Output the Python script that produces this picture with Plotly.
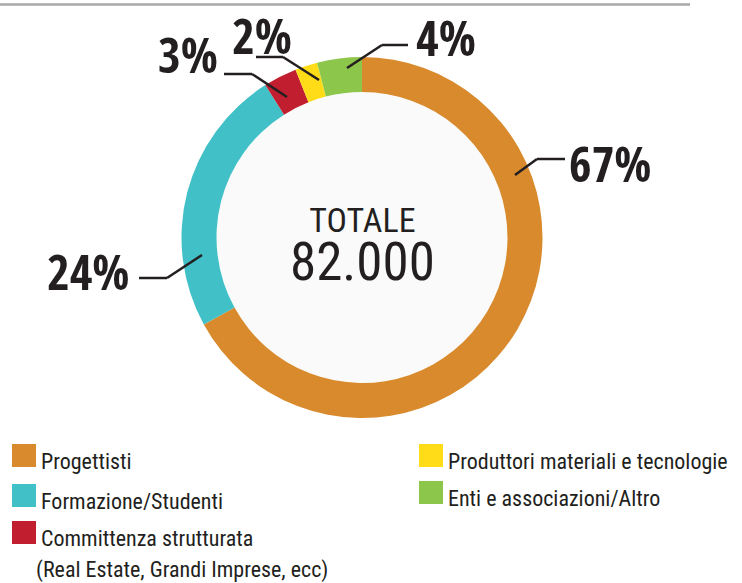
import plotly.graph_objects as go

# ---- data ----
categories = ["Progettisti", "Formazione/Studenti", "Committenza strutturata",
              "Produttori materiali e tecnologie", "Enti e associazioni/Altro"]
values = [67, 24, 3, 2, 4]
pct_labels = ["67%", "24%", "3%", "2%", "4%"]
total_title = "TOTALE"
total_label = "82.000"
legend_extra = "(Real Estate, Grandi Imprese, ecc)"
colors = ["#D88A2C", "#42C0C7", "#C11F2F", "#FFDC17", "#8CC64A"]

W, H = 742, 583
def px(x): return x / W
def py(y): return 1 - y / H

CX, CY, R = 362, 237.5, 180.5
HOLE = 0.806
DARK = "#231F20"
BIG = "Open Sans Condensed, Roboto Condensed, sans-serif"
COND = "Roboto Condensed, sans-serif"

fig = go.Figure()
fig.add_trace(go.Pie(
    labels=categories, values=values, sort=False, direction="clockwise",
    rotation=0, hole=HOLE, textinfo="none", hoverinfo="label+percent",
    marker=dict(colors=colors, line=dict(width=0)),
    domain=dict(x=[px(CX - R), px(CX + R)], y=[py(CY + R), py(CY - R)]),
    showlegend=False,
))

shapes = []
annotations = []

# top rule
shapes.append(dict(type="line", xref="paper", yref="paper", x0=0, x1=px(690),
                   y0=py(4.5), y1=py(4.5), line=dict(color="#A8A8A8", width=2.5)))
# inner hole fill
ri = R * HOLE
shapes.append(dict(type="circle", xref="paper", yref="paper", layer="below",
                   x0=px(CX - ri), x1=px(CX + ri), y0=py(CY + ri), y1=py(CY - ri),
                   fillcolor="#FAFAFA", line=dict(width=0)))

# leader lines and percentage labels (layout positions)
leaders = [
    [(515, 175), (537, 159), (565, 159)],
    [(202, 255), (167, 278), (139, 278)],
    [(287, 97), (252, 74), (224, 74)],
    [(319, 80), (283, 57), (256, 57)],
    [(347, 68), (382, 45), (408, 45)],
]
label_pos = [(610, 163), (88, 271), (188, 54), (262, 35), (446, 37)]
for pts, (lx, ly), txt in zip(leaders, label_pos, pct_labels):
    for (x0, y0), (x1, y1) in zip(pts[:-1], pts[1:]):
        shapes.append(dict(type="line", xref="paper", yref="paper",
                           x0=px(x0), y0=py(y0), x1=px(x1), y1=py(y1),
                           line=dict(color=DARK, width=2.5)))
    annotations.append(dict(x=px(lx), y=py(ly), xref="paper", yref="paper",
                            text=txt, showarrow=False, borderpad=0,
                            xanchor="center", yanchor="middle",
                            font=dict(family=BIG, size=49, color=DARK, weight=700)))

# center text (one block, two lines)
annotations.append(dict(
    x=px(362), y=py(246), xref="paper", yref="paper", showarrow=False,
    xanchor="center", yanchor="middle", align="center", borderpad=0,
    text=(f"<span style='font-size:34px'>{total_title}</span><br>"
          f"<span style='font-size:53px'>{total_label}</span>"),
    font=dict(family=COND, size=37, color=DARK)))

# custom legend
leg_pos = [(12, 444), (12, 484), (12, 521), (419, 444), (419, 481)]
for (x, y), c, name in zip(leg_pos, colors, categories):
    shapes.append(dict(type="rect", xref="paper", yref="paper",
                       x0=px(x), x1=px(x + 24), y0=py(y + 23), y1=py(y),
                       fillcolor=c, line=dict(width=0)))
    annotations.append(dict(x=px(x + 27), y=py(y + 17), xref="paper", yref="paper",
                            text=name, showarrow=False, xanchor="left", yanchor="middle",
                            font=dict(family=COND, size=22, color=DARK)))
annotations.append(dict(x=px(34), y=py(570), xref="paper", yref="paper",
                        text=legend_extra, showarrow=False, xanchor="left", yanchor="middle",
                        font=dict(family=COND, size=22, color=DARK)))

fig.update_layout(
    width=W, height=H, autosize=False,
    margin=dict(l=0, r=0, t=0, b=0),
    paper_bgcolor="white", plot_bgcolor="white",
    shapes=shapes, annotations=annotations,
)
fig.write_html("out.html", config={"displayModeBar": False},
               post_script="document.body.style.margin='0';")
